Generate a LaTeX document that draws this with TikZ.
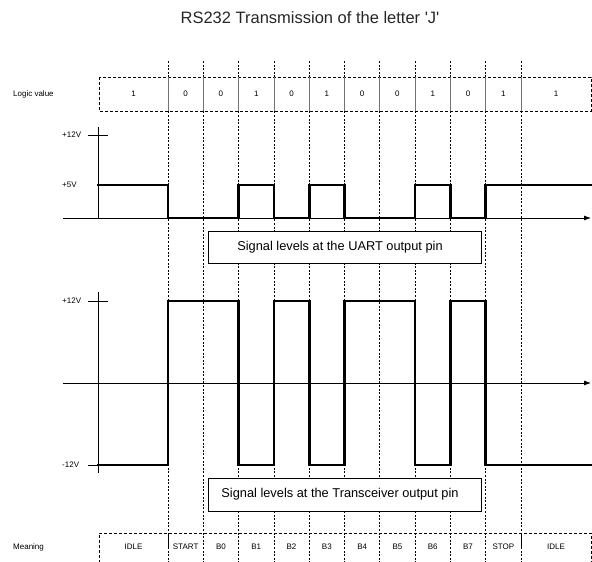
\documentclass[tikz,border=0pt]{standalone}
\usepackage{fontspec}
\setmainfont{Liberation Sans}
\usetikzlibrary{arrows.meta}
\begin{document}
\begin{tikzpicture}[x=1pt,y=-1pt,
  gridline/.style={line width=0.7pt, dash pattern=on 2pt off 1.6pt},
  boxedge/.style={line width=0.8pt, dash pattern=on 3pt off 2pt},
  sep/.style={line width=0.7pt, draw=black!55},
  axisline/.style={line width=0.8pt},
  axisarrow/.style={line width=0.8pt, -{Latex[length=7pt,width=5pt]}},
  signal/.style={line width=2.6pt, line join=miter},
  small/.style={font=\fontsize{8}{9}\selectfont, inner sep=0pt},
  lbl/.style={small, anchor=west},
  caption/.style={font=\fontsize{12.8}{14}\selectfont, inner sep=0pt},
  framebox/.style={draw, line width=0.8pt, fill=white, anchor=north west, inner sep=0pt}
]
\useasboundingbox (0,0) rectangle (592,562);

% title
\node[font=\fontsize{16.5}{18}\selectfont, inner sep=0pt, text=black!85] (title) at (310,18) {RS232 Transmission of the letter \textquotesingle J\textquotesingle};

% bit-boundary grid lines
\foreach \k in {0,...,10}
  \draw[gridline] ({168+35.3*\k},61) -- ({168+35.3*\k},562);

% logic value row
\draw[boxedge, fill=white] (99,77) rectangle (591,111);
\foreach \k in {0,...,10}
  \draw[sep] ({168+35.3*\k},77) -- ({168+35.3*\k},111);
\node[lbl] (lv) at (13,94) {Logic value};
\node[small] (v0) at (133.5,94) {1};
\foreach \v [count=\i from 0] in {0,0,1,0,1,0,0,1,0,1}
  \node[small] (v\the\numexpr\i+1\relax) at ({185.65+35.3*\i},94) {\v};
\node[small] (v11) at (556,94) {1};

% upper plot (UART)
\draw[axisline] (98.5,127) -- (98.5,218);
\draw[axisline] (88,135) -- (108,135);
\draw[axisarrow] (63,218) -- (591,218);
\node[lbl] (u12) at (62,135) {+12V};
\node[lbl] (u5) at (62,185) {+5V};
\draw[signal] (97,185) -- (168,185) -- (168,218) -- (238.6,218) -- (238.6,185)
  -- (273.9,185) -- (273.9,218) -- (309.2,218) -- (309.2,185) -- (344.5,185)
  -- (344.5,218) -- (415.1,218) -- (415.1,185) -- (450.4,185) -- (450.4,218)
  -- (485.7,218) -- (485.7,185) -- (593,185);
\node[framebox, minimum width=273pt, minimum height=32pt] (uart) at (208,231) {};
\node[caption] (uarttext) at (340,247) {Signal levels at the UART output pin};

% lower plot (transceiver)
\draw[axisline] (98.5,292) -- (98.5,473);
\draw[axisline] (88,301) -- (108,301);
\draw[axisline] (88,465) -- (99,465);
\draw[axisarrow] (63,383) -- (591,383);
\node[lbl] (l12) at (62,301) {+12V};
\node[lbl] (lm12) at (62,465) {-12V};
\draw[signal] (97,465) -- (168,465) -- (168,301) -- (238.6,301) -- (238.6,465)
  -- (273.9,465) -- (273.9,301) -- (309.2,301) -- (309.2,465) -- (344.5,465)
  -- (344.5,301) -- (415.1,301) -- (415.1,465) -- (450.4,465) -- (450.4,301)
  -- (485.7,301) -- (485.7,465) -- (593,465);
\node[framebox, minimum width=273pt, minimum height=33pt] (xcvr) at (208,478) {};
\node[caption] (xcvrtext) at (340,494.5) {Signal levels at the Transceiver output pin};

% meaning row
\draw[boxedge] (99,563) -- (99,533) -- (591,533) -- (591,563);
\draw[line width=0.8pt] (168,533) -- (168,549);
\draw[line width=0.8pt] (521,533) -- (521,549);
\node[lbl] (mn) at (13,547) {Meaning};
\node[small] (m0) at (133.5,547) {IDLE};
\foreach \m [count=\i from 0] in {START,B0,B1,B2,B3,B4,B5,B6,B7,STOP}
  \node[small] (m\the\numexpr\i+1\relax) at ({185.65+35.3*\i},547) {\m};
\node[small] (m11) at (556,547) {IDLE};
\end{tikzpicture}
\end{document}
